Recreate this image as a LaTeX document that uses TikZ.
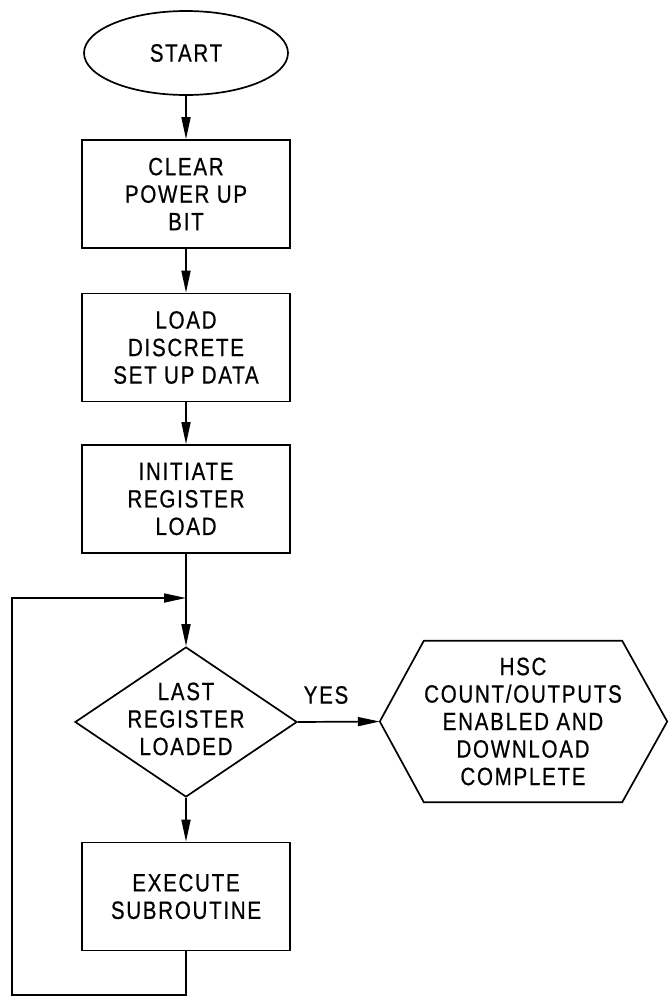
\documentclass[tikz,border=0pt]{standalone}
\usepackage{fontspec}
\setmainfont{Liberation Sans}[FakeStretch=0.82, LetterSpace=7, FakeBold=0.6]
\usetikzlibrary{shapes.geometric, arrows.meta}

\begin{document}
\begin{tikzpicture}[x=1pt, y=-1pt,
  every node/.style={font=\fontsize{25}{27.5}\selectfont, align=center, inner sep=0pt},
  flow/.style={line width=1.7pt},
  arr/.style={flow, -{Triangle[length=22pt, width=9pt]}},
  stepbox/.style={draw, line width=1.7pt, rectangle, minimum width=208pt, minimum height=108pt},
  terminal/.style={draw, line width=1.7pt, ellipse, minimum width=204pt, minimum height=84pt},
  decision/.style={draw, line width=1.7pt, diamond, minimum width=222pt, minimum height=150pt}]

  % page frame
  \useasboundingbox (0,0) rectangle (670,1004);

  % main column
  \node[terminal] (start) at (186,53) {START};
  \node[stepbox] (clear) at (186,194) {CLEAR\\POWER UP\\BIT};
  \node[stepbox] (load) at (186,347.5) {LOAD\\DISCRETE\\SET UP DATA};
  \node[stepbox] (init) at (186,499) {INITIATE\\REGISTER\\LOAD};
  \node[decision] (dec) at (186,722) {};
  \node (decT) at (186,719) {LAST\\REGISTER\\LOADED};
  \node[stepbox] (exec) at (186,896.5) {EXECUTE\\SUBROUTINE};

  % terminating hexagon
  \node[minimum width=198pt, minimum height=161pt] (done) at (523,721.5)
    {HSC\\COUNT/OUTPUTS\\ENABLED AND\\DOWNLOAD\\COMPLETE};
  \coordinate (doneW) at ([xshift=-44pt]done.west);
  \coordinate (doneE) at ([xshift=45pt]done.east);
  \draw[flow] (done.north west) -- (done.north east) -- (doneE)
    -- (done.south east) -- (done.south west) -- (doneW) -- cycle;

  \node (yes) at (326,695) {YES};

  % connectors
  \draw[arr] (start) -- (clear);
  \draw[arr] (clear) -- (load);
  \draw[arr] (load) -- (init);
  \draw[arr] (init) -- (dec.north);
  \draw[arr] (dec.south) -- (exec);
  \draw[arr] (dec.east) -- (doneW);

  % loop back from the subroutine
  \coordinate (join) at (186,598);
  \coordinate (loopBL) at (12,995);
  \draw[arr] (exec.south) -- (exec.south |- loopBL) -- (loopBL) |- (join);
\end{tikzpicture}
\end{document}
